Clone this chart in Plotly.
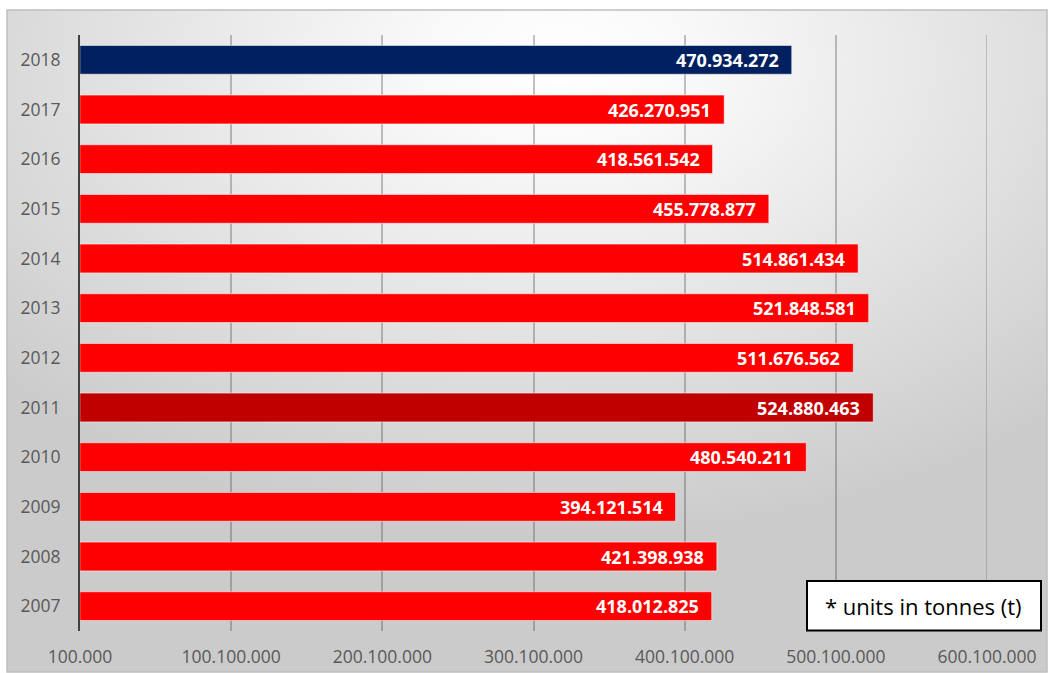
import base64
import plotly.graph_objects as go

# Annual volumes (tonnes)
years = ["2007", "2008", "2009", "2010", "2011", "2012",
         "2013", "2014", "2015", "2016", "2017", "2018"]
volumes = [418012825, 421398938, 394121514, 480540211, 524880463, 511676562,
           521848581, 514861434, 455778877, 418561542, 426270951, 470934272]

# Axis starts at 100.000 with a major step of 100.000.000
axis_min = 100000
axis_step = 100000000
tick_values = [axis_min + k * axis_step for k in range(7)]

highlight = {"2018": "#002060", "2011": "#C00000"}
bar_colors = [highlight.get(y, "#FF0000") for y in years]


def dotted(n):
    return f"{n:,}".replace(",", ".")


tick_labels = [dotted(v) for v in tick_values]

FONT = "Open Sans"
GRID = "rgba(70,70,70,0.33)"

# plot area in pixels: x 80..987, y 35..631
W, H = 1053, 673
ML, MR, MT, MB = 80, 66, 35, 42
PW, PH = W - ML - MR, H - MT - MB


def px_to_paper_x(px):
    return (px - ML) / PW


def px_to_paper_y(py):
    return (H - MB - py) / PH


fig = go.Figure()
fig.add_trace(go.Bar(
    y=years,
    x=volumes,
    orientation="h",
    marker=dict(color=bar_colors, line=dict(color="rgba(255,255,255,0.55)", width=1)),
    hoverinfo="x+y",
))

# value labels, right-aligned inside the bar ends (y given as category index)
annotations = []
for i, v in enumerate(volumes):
    annotations.append(dict(
        x=v, y=i, xref="x", yref="y", text=dotted(v), showarrow=False,
        xanchor="right", yanchor="middle", xshift=-11,
        font=dict(family=FONT, size=18, color="white", weight="bold"),
    ))

# units note in the lower-right corner
bx0, bx1 = px_to_paper_x(807), px_to_paper_x(1041)
by0, by1 = px_to_paper_y(630.5), px_to_paper_y(581)
annotations.append(dict(
    x=(bx0 + bx1) / 2, y=(by0 + by1) / 2, xref="paper", yref="paper",
    text="* units in tonnes (t)", showarrow=False, xanchor="center", yanchor="middle",
    font=dict(family=FONT, size=22, color="black"),
))

# chart background: soft radial gradient from white at top-centre to grey edges
fx0, fx1 = 7, 1047
fy0, fy1 = 10, 672
svg = (
    "<svg xmlns='http://www.w3.org/2000/svg' width='1040' height='662' "
    "viewBox='0 0 1040 662' preserveAspectRatio='none'>"
    "<defs><radialGradient id='g' cx='0.53' cy='0.08' r='0.72'>"
    "<stop offset='0' stop-color='#ffffff'/>"
    "<stop offset='0.18' stop-color='#f9f9f9'/>"
    "<stop offset='1' stop-color='#cbcbcb'/>"
    "</radialGradient></defs>"
    "<rect width='1040' height='662' fill='url(#g)'/></svg>"
)
bg_src = "data:image/svg+xml;base64," + base64.b64encode(svg.encode()).decode()

fig.add_layout_image(dict(
    source=bg_src, xref="paper", yref="paper",
    x=px_to_paper_x(fx0), y=px_to_paper_y(fy0),
    sizex=(fx1 - fx0) / PW, sizey=(fy1 - fy0) / PH,
    xanchor="left", yanchor="top", sizing="stretch", layer="below",
))

shapes = [
    # outer frame
    dict(type="rect", xref="paper", yref="paper",
         x0=px_to_paper_x(fx0), x1=px_to_paper_x(fx1),
         y0=px_to_paper_y(fy1), y1=px_to_paper_y(fy0),
         line=dict(color="#BFBFBF", width=1.5), fillcolor="rgba(0,0,0,0)", layer="below"),
    # gridline on the right edge of the value axis
    dict(type="line", xref="x", yref="paper", x0=tick_values[-1], x1=tick_values[-1],
         y0=0, y1=1, line=dict(color=GRID, width=1.5), layer="below"),
    # units note box
    dict(type="rect", xref="paper", yref="paper", x0=bx0, x1=bx1, y0=by0, y1=by1,
         line=dict(color="black", width=2), fillcolor="white", layer="above"),
]

fig.update_layout(
    width=W, height=H,
    margin=dict(l=ML, r=MR, t=MT, b=MB, pad=0),
    paper_bgcolor="white",
    plot_bgcolor="rgba(0,0,0,0)",
    bargap=0.42,
    showlegend=False,
    annotations=annotations,
    shapes=shapes,
    font=dict(family=FONT),
)

fig.update_xaxes(
    range=[axis_min, tick_values[-1]],
    automargin=False,
    tickmode="array", tickvals=tick_values, ticktext=tick_labels,
    showgrid=True, gridcolor=GRID, gridwidth=1.5,
    zeroline=False, showline=False, ticks="",
    ticklabelstandoff=13,
    tickfont=dict(family=FONT, size=17.5, color="#595959"),
)

fig.update_yaxes(
    type="category",
    automargin=False,
    categoryorder="array", categoryarray=years,
    range=[-0.5, len(years) - 0.5],
    showgrid=False, zeroline=False,
    showline=True, linecolor="#404040", linewidth=2,
    ticks="", ticklabelstandoff=14,
    tickfont=dict(family=FONT, size=17.5, color="#595959"),
)

fig.write_html("out.html")
